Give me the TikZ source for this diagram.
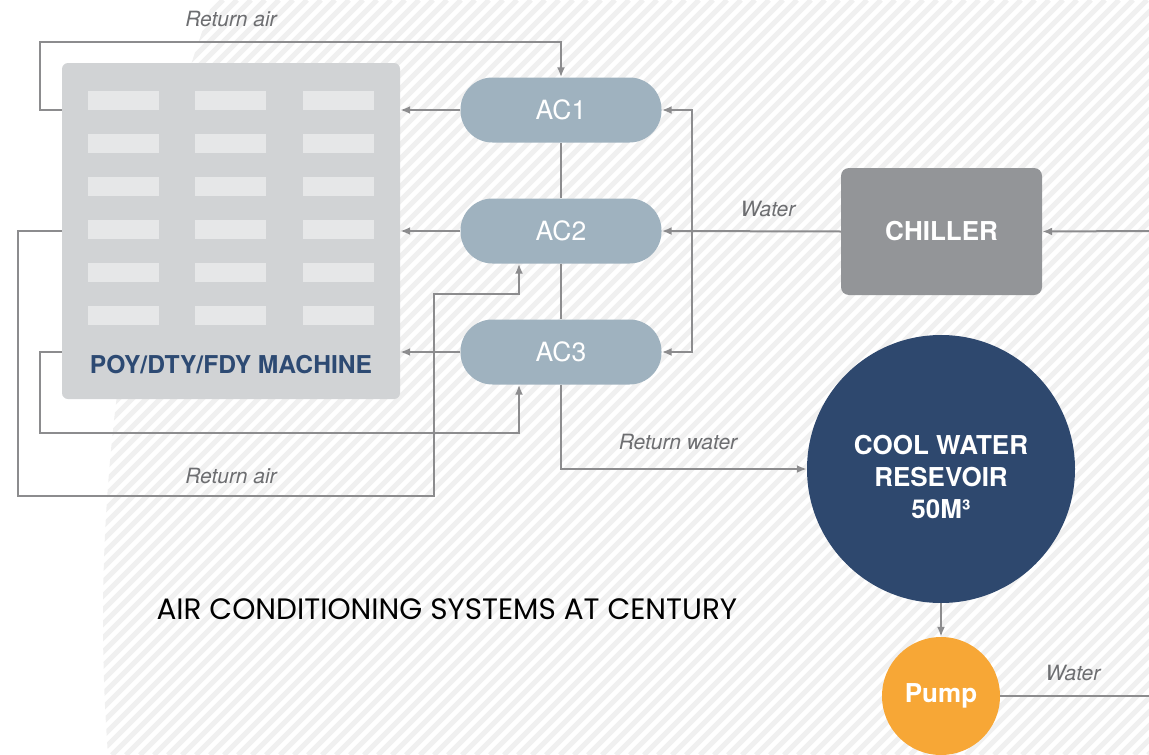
\documentclass[tikz,border=0pt]{standalone}
\usepackage{fontspec}
\setmainfont{TeX Gyre Heros}
\newfontfamily\titlefont{Poppins}
\usepackage{tikz}
\usetikzlibrary{arrows.meta}
\usetikzlibrary{calc}
\definecolor{acfill}{HTML}{9FB2BF}
\definecolor{machinefill}{HTML}{D1D3D5}
\definecolor{slatfill}{HTML}{E6E7E8}
\definecolor{chillerfill}{HTML}{939598}
\definecolor{tankfill}{HTML}{2E486E}
\definecolor{pumpfill}{HTML}{F7A736}
\definecolor{pipecolor}{HTML}{8C8C8E}
\definecolor{labelcolor}{HTML}{6D6E71}
\definecolor{machinetext}{HTML}{2D4A73}
\definecolor{hatchcolor}{HTML}{F0F0F0}

\begin{document}
\begin{tikzpicture}[x=1pt,y=-1pt,
  pipe/.style={pipecolor,line width=2pt},
  pipearrow/.style={pipe,-{Latex[length=10pt,width=8pt]}},
  acbox/.style={fill=acfill,rounded corners=32pt,minimum width=201pt,minimum height=65pt,
    text=white,font=\fontsize{26.5}{30}\selectfont},
  flowlabel/.style={labelcolor,font=\fontsize{21}{25}\selectfont\itshape}]
  \useasboundingbox (0,0) rectangle (1149,755);
%% hatched background
\begin{scope}
  \clip (1890,620) circle (1787);
  \foreach \a in {-770,-756,...,1160}
    \draw[hatchcolor,line width=5pt] (\a,755) -- ++(755,-755);
\end{scope}
%% machine
  \node[fill=machinefill,rounded corners=6pt,minimum width=338pt,minimum height=336pt] (machine) at (231,231) {};
\foreach \col in {88,195,303}
  \foreach \row in {91,134,177,220,263,306}
    \fill[slatfill] (\col,\row) rectangle ++(71,19);
  \node[machinetext,font=\fontsize{24.6}{28}\selectfont\bfseries] (machinelabel) at (231,365) {POY/DTY/FDY MACHINE};
%% air conditioners, chiller, reservoir, pump
  \node[acbox] (ac1) at (561,110) {AC1};
  \node[acbox] (ac2) at (561,231) {AC2};
  \node[acbox] (ac3) at (561,352) {AC3};
  \node[fill=chillerfill,rounded corners=8pt,minimum width=201pt,minimum height=127pt,
    text=white,font=\fontsize{26}{30}\selectfont\bfseries] (chiller) at (941.5,231.5) {CHILLER};
  \node[circle,fill=tankfill,minimum size=268pt] (tank) at (941,469) {};
  \node[text=white,align=center,font=\fontsize{26}{32}\selectfont\bfseries] (tanklabel) at (941,477) {COOL WATER\\RESEVOIR\\50M³};
  \node[circle,fill=pumpfill,minimum size=118pt,inner sep=0pt,text=white,
    font=\fontsize{26}{30}\selectfont\bfseries] (pump) at (941,696) {Pump};
%% pipes
\foreach \n in {ac1,ac2,ac3}
  \draw[pipearrow] (\n.west) -- (\n.west -| machine.east);
  \draw[pipe] (ac1.south) -- (ac2.north);
  \draw[pipe] (ac2.south) -- (ac3.north);
  \draw[pipearrow] (ac3.south) |- (tank.west);
  \node[flowlabel] (returnwater) at (678,442) {Return water};
  \draw[pipearrow] (chiller.west) -- (ac2.east);
  \node[flowlabel] (chillerwater) at (768,209) {Water};
  \coordinate (split) at (692,231);
  \draw[pipearrow] (split) |- (ac1.east);
  \draw[pipearrow] (split) |- (ac3.east);
  \coordinate (chillerin) at (1149,231);
  \draw[pipearrow] (chillerin) -- (chiller.east);
  \draw[pipearrow] (tank.south) -- (pump.north);
  \coordinate (pumpout) at (1149,696);
  \draw[pipe] (pump.east) -- (pumpout);
  \node[flowlabel] (pumpwater) at (1073,673) {Water};
%% return air
  \coordinate (ra1) at (40,42);
  \draw[pipearrow] (machine.west |- ac1.west) -| (ra1) -| (ac1.north);
  \node[flowlabel] (returnairtop) at (231,19) {Return air};
  \coordinate (ra2a) at (18,496);
  \coordinate (ra2b) at (434,294);
  \draw[pipearrow] (machine.west |- ac2.west) -| (ra2a) -| (ra2b) -| ([xshift=-42pt]ac2.south);
  \coordinate (ra3) at (40,433);
  \draw[pipearrow] (machine.west |- ac3.west) -| (ra3) -| ([xshift=-42pt]ac3.south);
  \node[flowlabel] (returnairbottom) at (231,476) {Return air};
%% title
  \node[anchor=west,font=\titlefont\fontsize{29.5}{34}\selectfont] (title) at (153,609) {AIR CONDITIONING SYSTEMS AT CENTURY};
\end{tikzpicture}
\end{document}
